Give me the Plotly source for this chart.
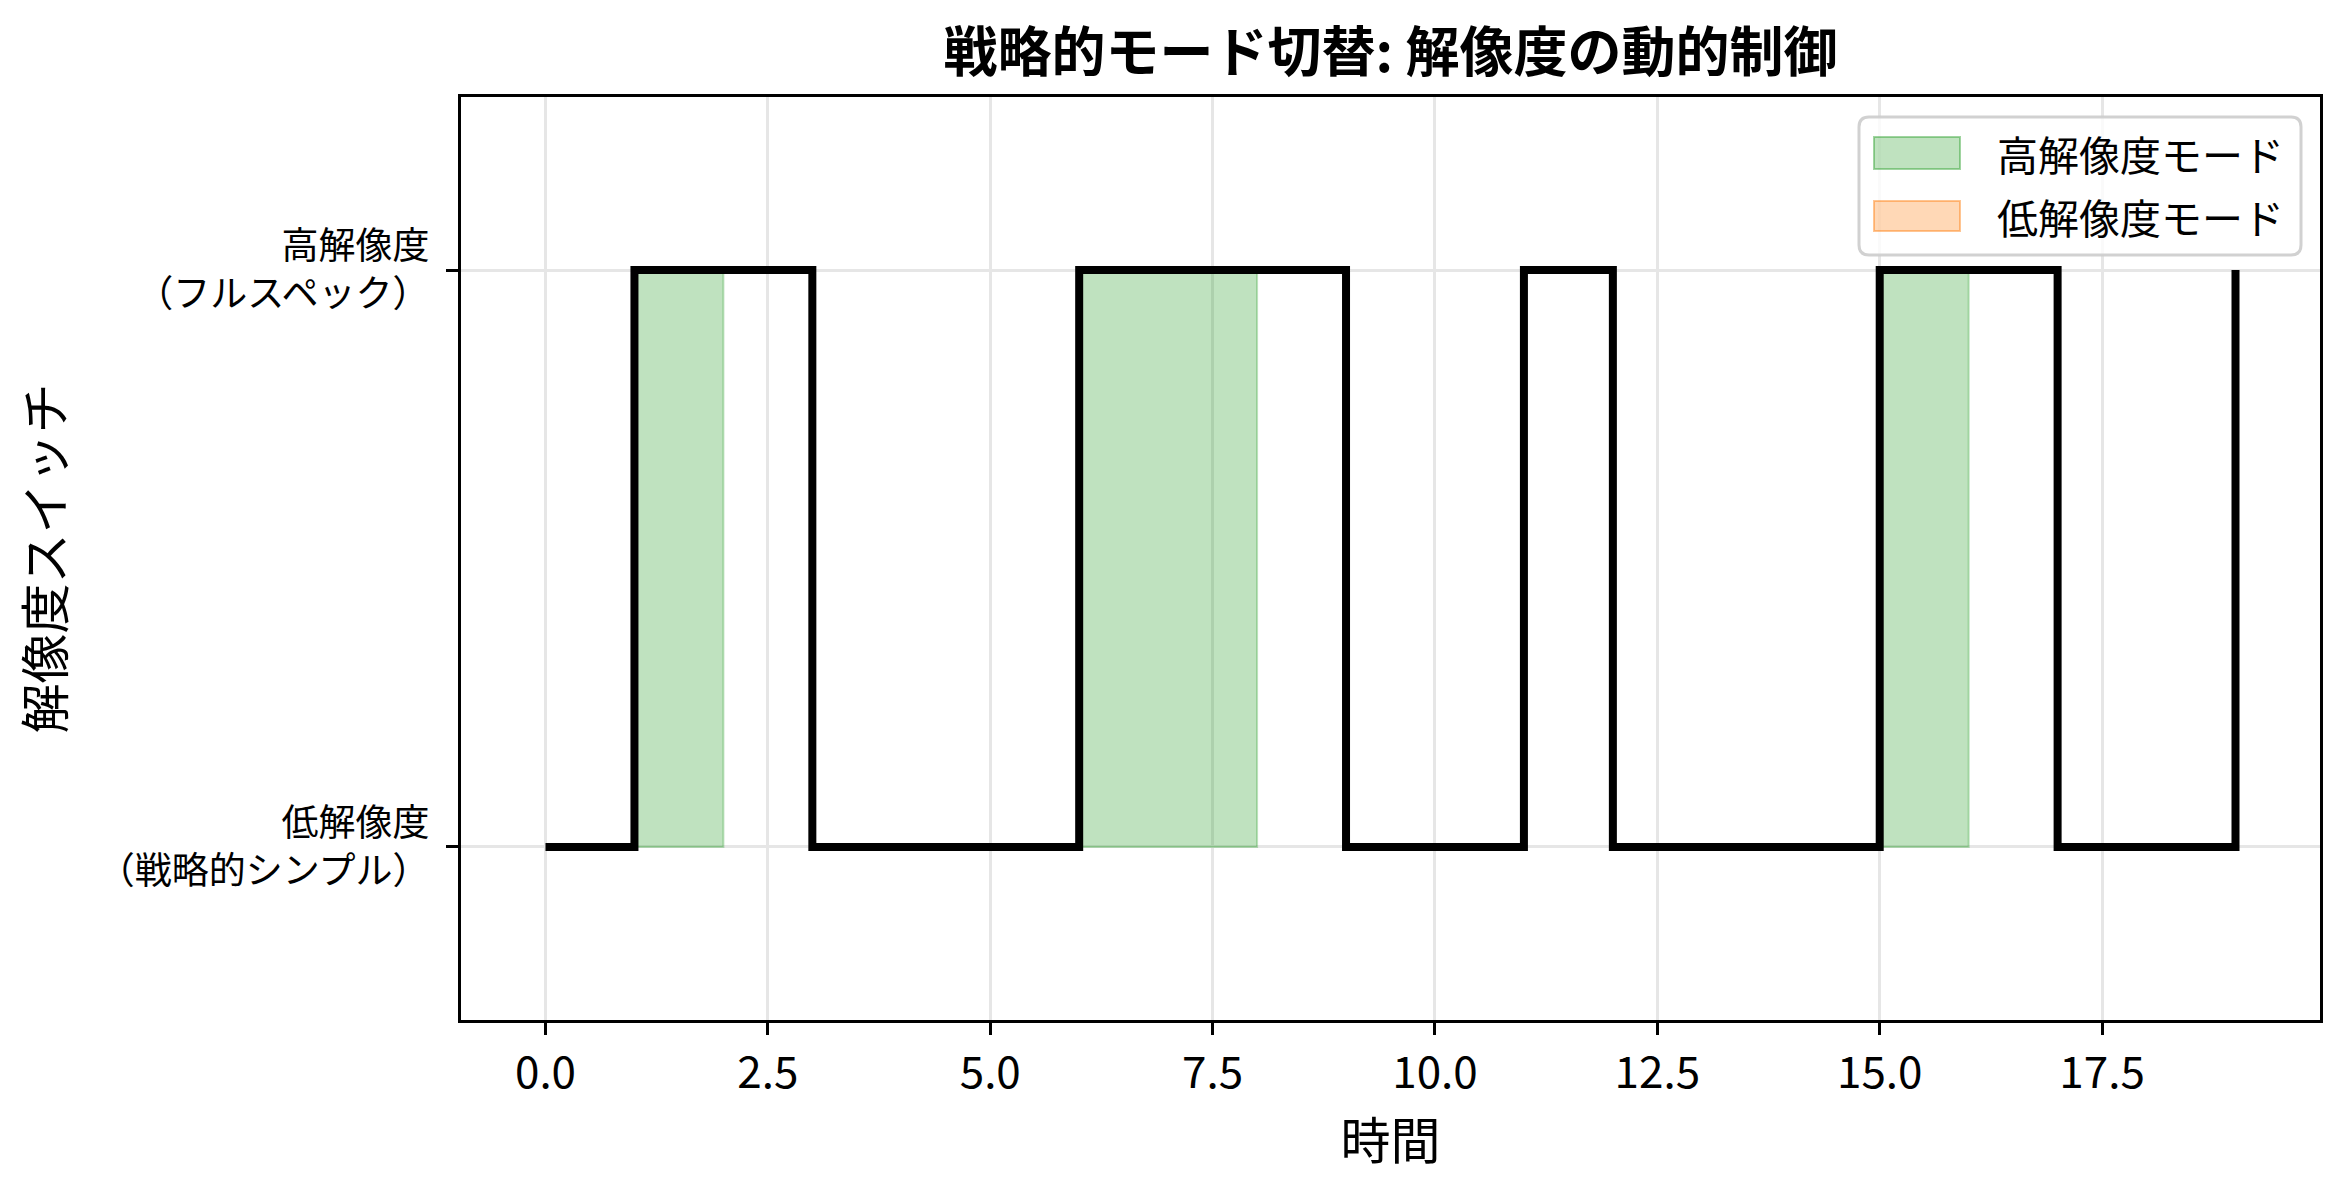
import plotly.graph_objects as go

# ---- data ----
time = list(range(20))
mode = [0, 1, 1, 0, 0, 0, 1, 1, 1, 0, 0, 1, 0, 0, 0, 1, 1, 0, 0, 1]
ytick_vals = [0, 1]
ytick_text = ["低解像度<br>（戦略的シンプル）", "高解像度<br>（フルスペック）"]
legend_labels = ["高解像度モード", "低解像度モード"]
title_text = "戦略的モード切替: 解像度の動的制御"
xlabel = "時間"
ylabel = "解像度スイッチ"

FONT = "Noto Sans CJK JP"
W, H = 2351, 1187
ML, MR, MT, MB = 461, 31, 97, 167


def where_regions(t, y, val):
    """polygons like matplotlib fill_between(t, 0, y, where=y==val)"""
    xs, ys = [], []
    n = len(t)
    i = 0
    while i < n:
        if y[i] == val:
            j = i
            while j + 1 < n and y[j + 1] == val:
                j += 1
            sx = t[i:j + 1]
            sy = y[i:j + 1]
            xs += sx + sx[::-1] + [sx[0], None]
            ys += [0] * len(sx) + sy[::-1] + [0, None]
            i = j + 1
        else:
            i += 1
    return xs, ys


green_fill = "rgba(44,160,44,0.3)"
orange_fill = "rgba(255,127,14,0.3)"

fig = go.Figure()

hx, hy = where_regions(time, mode, 1)
lx, ly = where_regions(time, mode, 0)

fig.add_trace(go.Scatter(x=hx, y=hy, mode="lines", fill="toself",
                         fillcolor=green_fill,
                         line=dict(color=green_fill, width=2),
                         name=legend_labels[0], showlegend=False,
                         hoverinfo="skip"))
fig.add_trace(go.Scatter(x=lx, y=ly, mode="lines", fill="toself",
                         fillcolor=orange_fill,
                         line=dict(color=orange_fill, width=2),
                         name=legend_labels[1], showlegend=False,
                         hoverinfo="skip"))
fig.add_trace(go.Scatter(x=time, y=mode, mode="lines", line_shape="hv",
                         line=dict(color="black", width=8),
                         showlegend=False))

# ---- manual legend (matplotlib style) ----
pw = W - ML - MR
ph = H - MT - MB


def px_x(p):
    return (p - ML) / pw


def px_y(p):
    return (H - MB - p) / ph


bx0, bx1 = px_x(1859), px_x(2301)
by0, by1 = px_y(255), px_y(117)
rx, ry = 10 / pw, 10 / ph
path = (f"M {bx0+rx},{by1} L {bx1-rx},{by1} Q {bx1},{by1} {bx1},{by1-ry} "
        f"L {bx1},{by0+ry} Q {bx1},{by0} {bx1-rx},{by0} "
        f"L {bx0+rx},{by0} Q {bx0},{by0} {bx0},{by0+ry} "
        f"L {bx0},{by1-ry} Q {bx0},{by1} {bx0+rx},{by1} Z")
shapes = [dict(type="path", path=path, xref="paper", yref="paper",
               fillcolor="rgba(255,255,255,0.8)",
               line=dict(color="rgba(204,204,204,0.9)", width=3), layer="above")]
annotations = []
entries = [(legend_labels[0], green_fill, "rgba(44,160,44,0.45)", 137, 169),
           (legend_labels[1], orange_fill, "rgba(255,127,14,0.45)", 201, 231)]
for lab, fc, lc, ya, yb in entries:
    shapes.append(dict(type="rect", xref="paper", yref="paper",
                       x0=px_x(1874), x1=px_x(1960), y0=px_y(yb), y1=px_y(ya),
                       fillcolor=fc, line=dict(color=lc, width=2), layer="above"))
    annotations.append(dict(text=lab, xref="paper", yref="paper",
                            x=px_x(1995), y=px_y((ya + yb) / 2),
                            xanchor="left", yanchor="middle", showarrow=False,
                            font=dict(family=FONT, size=41, color="black")))

fig.update_layout(
    width=W, height=H,
    margin=dict(l=ML, r=MR, t=MT, b=MB, autoexpand=False),
    paper_bgcolor="white", plot_bgcolor="white",
    title=dict(text=title_text, x=(ML + pw / 2) / W, xanchor="center",
               y=1 - 53 / H, yanchor="middle",
               font=dict(family=FONT, size=54, color="black", weight="bold")),
    shapes=shapes, annotations=annotations,
    showlegend=False,
    font=dict(family=FONT, color="black"),
)

fig.update_xaxes(
    range=[-0.95, 19.95], tick0=0, dtick=2.5, tickformat=".1f",
    showgrid=True, gridcolor="#e6e6e6", gridwidth=2.5,
    showline=True, linecolor="black", linewidth=3, mirror=True,
    ticks="outside", ticklen=12, tickwidth=3, tickcolor="black",
    tickfont=dict(family=FONT, size=44, color="black"),
    zeroline=False,
    title=dict(text=xlabel, font=dict(family=FONT, size=50, color="black"), standoff=3),
)
fig.update_yaxes(
    range=[-0.3, 1.3], tickvals=ytick_vals, ticktext=ytick_text,
    showgrid=True, gridcolor="#e6e6e6", gridwidth=2.5,
    showline=True, linecolor="black", linewidth=3, mirror=True,
    ticks="outside", ticklen=12, tickwidth=3, tickcolor="black",
    ticklabelstandoff=9,
    tickfont=dict(family=FONT, size=37, color="black"),
    zeroline=False,
    title=dict(text=ylabel, font=dict(family=FONT, size=50, color="black"), standoff=18),
)

fig.write_html("out.html", config={"displayModeBar": False},
               post_script="document.body.style.margin='0';")
